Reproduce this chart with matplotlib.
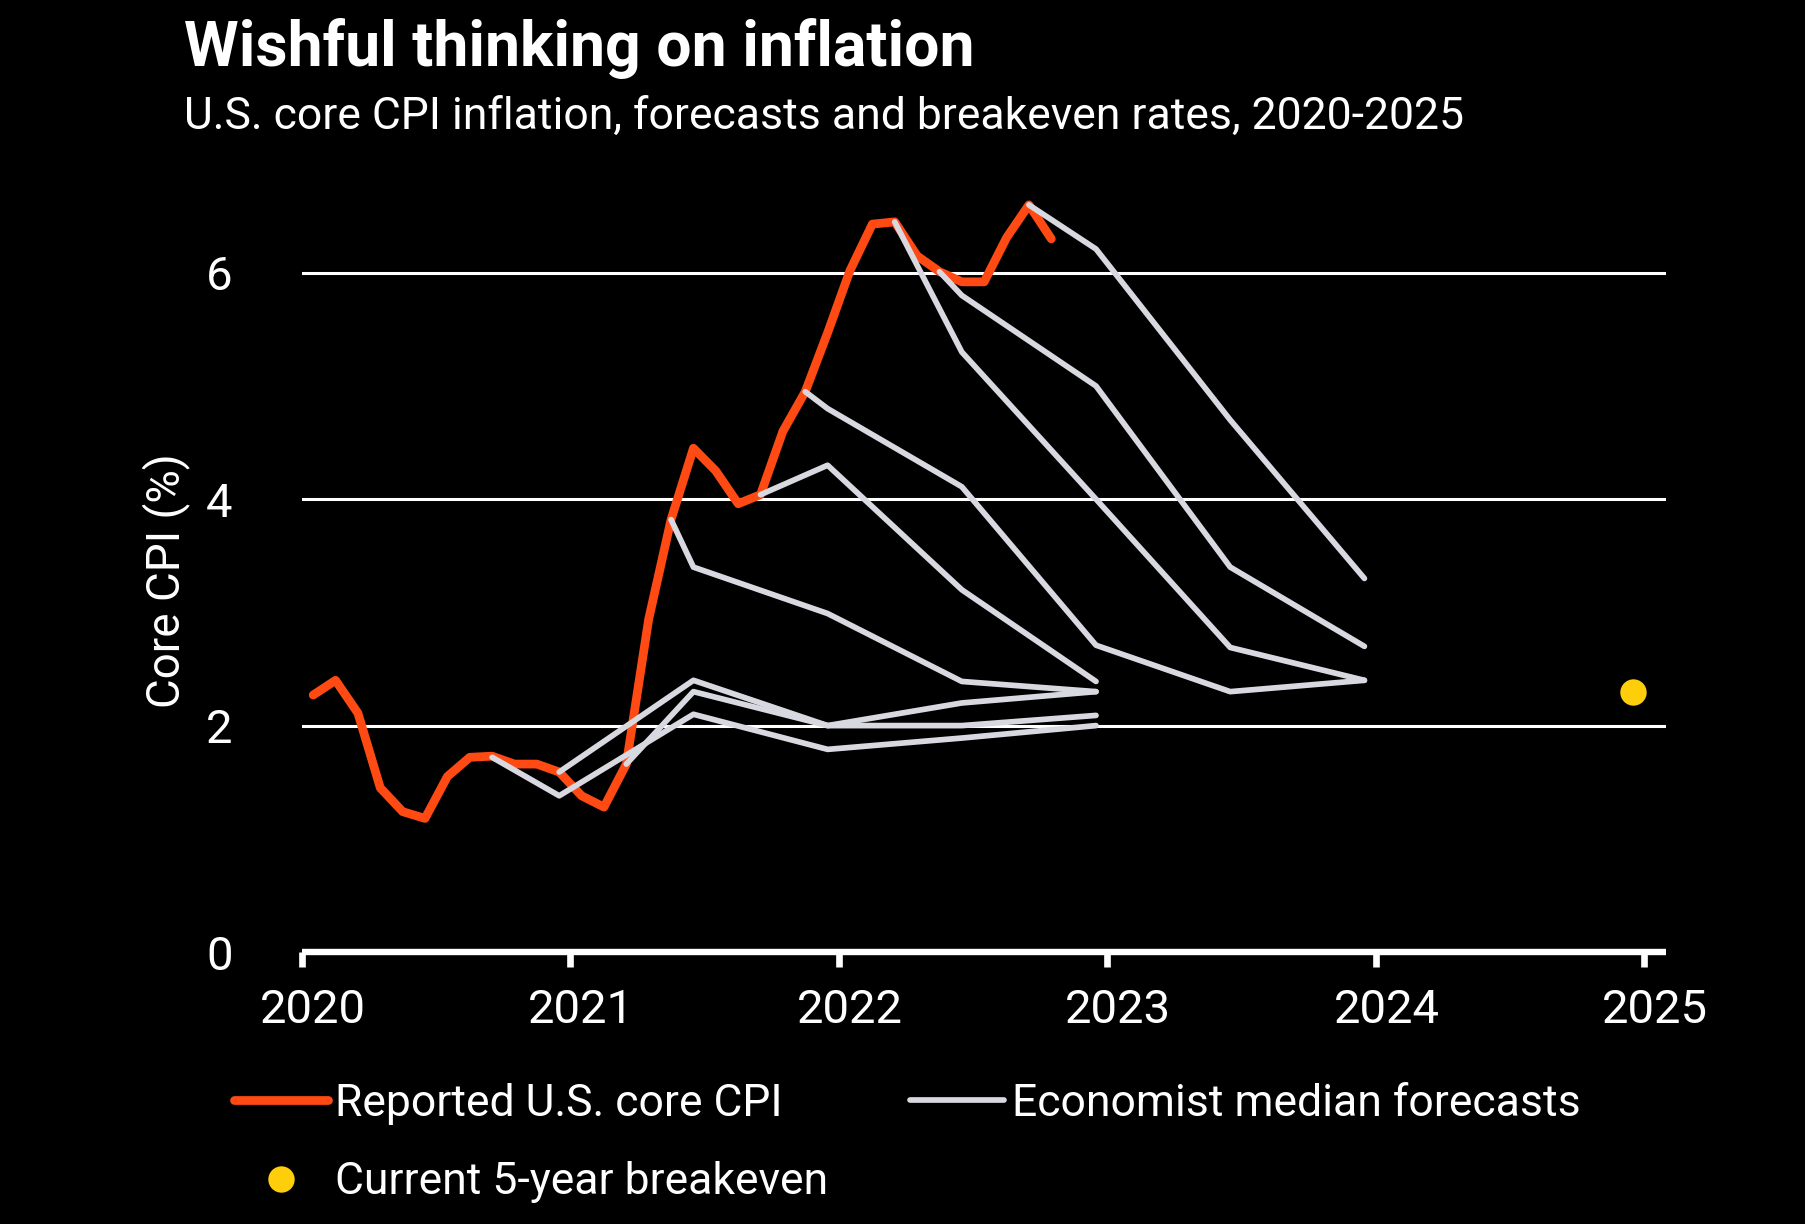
import matplotlib
matplotlib.use("Agg")
import matplotlib.pyplot as plt
import matplotlib.transforms as mtransforms

plt.rcParams['font.family'] = ['Roboto', 'DejaVu Sans']

# ---------------- data ----------------
# Reported U.S. core CPI (y/y %), monthly Jan 2020 - Oct 2022
cpi_first_month = "2020-01"
cpi_values = [2.27, 2.40, 2.11, 1.45, 1.24, 1.18, 1.55, 1.72, 1.73, 1.66, 1.66, 1.59,
              1.38, 1.28, 1.66, 2.94, 3.82, 4.45, 4.25, 3.96, 4.04, 4.60, 4.95, 5.47,
              6.02, 6.43, 6.45, 6.15, 6.01, 5.92, 5.92, 6.31, 6.60, 6.30]

# Economist median forecasts (start at the latest reported value)
f1_months = ["2020-09", "2020-12", "2021-06", "2021-12", "2022-06", "2022-12"]
f1_values = [1.72, 1.38, 2.10, 1.79, 1.89, 2.00]
f2_months = ["2020-12", "2021-06", "2021-12", "2022-06", "2022-12"]
f2_values = [1.59, 2.40, 2.00, 2.20, 2.30]
f3_months = ["2021-03", "2021-06", "2021-12", "2022-06", "2022-12"]
f3_values = [1.66, 2.30, 2.00, 2.00, 2.09]
f4_months = ["2021-05", "2021-06", "2021-12", "2022-06", "2022-12"]
f4_values = [3.82, 3.40, 2.99, 2.39, 2.30]
f5_months = ["2021-09", "2021-12", "2022-06", "2022-12"]
f5_values = [4.04, 4.30, 3.20, 2.39]
f6_months = ["2021-11", "2021-12", "2022-06", "2022-12", "2023-06", "2023-12"]
f6_values = [4.95, 4.80, 4.11, 2.71, 2.30, 2.40]
f7_months = ["2022-03", "2022-06", "2022-12", "2023-06", "2023-12"]
f7_values = [6.45, 5.30, 4.00, 2.69, 2.40]
f8_months = ["2022-05", "2022-06", "2022-12", "2023-06", "2023-12"]
f8_values = [6.01, 5.80, 5.00, 3.40, 2.70]
f9_months = ["2022-09", "2022-12", "2023-06", "2023-12"]
f9_values = [6.60, 6.21, 4.70, 3.30]

# Current 5-year breakeven
breakeven_month = "2024-12"
breakeven_value = 2.3

year_ticks = [2020, 2021, 2022, 2023, 2024, 2025]
y_ticks = [0, 2, 4, 6]

title = "Wishful thinking on inflation"
subtitle = "U.S. core CPI inflation, forecasts and breakeven rates, 2020-2025"
ylabel = "Core CPI (%)"
label_cpi = "Reported U.S. core CPI"
label_fc = "Economist median forecasts"
label_be = "Current 5-year breakeven"

# ---------------- styling ----------------
BG = "#000000"
ORANGE = "#FF4A14"
GREY = "#D8D8E0"
YELLOW = "#FFCE0A"
WHITE = "#FFFFFF"


def month_to_x(m):
    y, mo = m.split("-")
    return int(y) + (int(mo) - 0.5) / 12.0


def month_seq(first, n):
    y, mo = map(int, first.split("-"))
    out = []
    for i in range(n):
        k = mo - 1 + i
        out.append(y + k // 12 + ((k % 12) + 0.5) / 12.0)
    return out


fig = plt.figure(figsize=(18.06, 12.24), dpi=100, facecolor=BG)
ax = fig.add_axes([302 / 1806, 1 - 952 / 1224, 1364 / 1806, 6.8 * 113.2 / 1224])
ax.set_facecolor(BG)

ax.set_xlim(2020, 2020 + 1364 / 268.4)
ax.set_ylim(0, 6.8)

# gridlines
for v in y_ticks[1:]:
    ax.axhline(v, color=WHITE, lw=2.2, zorder=1)

cpi_x = month_seq(cpi_first_month, len(cpi_values))
cpi_line, = ax.plot(cpi_x, cpi_values, color=ORANGE, lw=6.3, solid_capstyle="round",
                    solid_joinstyle="round", zorder=3, clip_on=False)

fc_lines = []
for months, vals in [(f1_months, f1_values), (f2_months, f2_values), (f3_months, f3_values),
                     (f4_months, f4_values), (f5_months, f5_values), (f6_months, f6_values),
                     (f7_months, f7_values), (f8_months, f8_values), (f9_months, f9_values)]:
    ln, = ax.plot([month_to_x(m) for m in months], vals, color=GREY, lw=4.1,
                  solid_capstyle="round", solid_joinstyle="round", zorder=4, clip_on=False)
    fc_lines.append(ln)

be_pt, = ax.plot([month_to_x(breakeven_month)], [breakeven_value], "o", color=YELLOW,
                 markersize=19, markeredgewidth=0, zorder=5, clip_on=False, linestyle="none")

# spines / ticks
for s in ["top", "right", "left"]:
    ax.spines[s].set_visible(False)
ax.spines["bottom"].set_color(WHITE)
ax.spines["bottom"].set_linewidth(4.6)
ax.spines["bottom"].set_capstyle("butt")

ax.set_xticks(year_ticks)
ax.set_xticklabels([str(y) for y in year_ticks])
ax.set_yticks(y_ticks)
ax.set_yticklabels([str(v) for v in y_ticks])
ax.tick_params(axis="x", colors=WHITE, length=11, width=4.8, direction="out",
               labelsize=34, pad=15)
ax.tick_params(axis="y", colors=WHITE, length=0, labelsize=34, pad=50)

# year labels sit slightly right of their ticks in the reference
shift = mtransforms.ScaledTranslation(11 / 100, 0, fig.dpi_scale_trans)
for lbl in ax.get_xticklabels():
    lbl.set_transform(lbl.get_transform() + shift)

ax.set_ylabel(ylabel, color=WHITE, fontsize=33)
ax.yaxis.set_label_coords(-0.082, 0.483)

# titles
fig.text(184 / 1806, 1 - 66 / 1224, title, color=WHITE, fontsize=45, fontweight="bold",
         ha="left", va="baseline")
fig.text(184 / 1806, 1 - 129 / 1224, subtitle, color=WHITE, fontsize=32,
         ha="left", va="baseline")

# legend
handles = [cpi_line, be_pt, fc_lines[0]]
labels = [label_cpi, label_be, label_fc]
leg = fig.legend(handles, labels, loc="upper left", bbox_to_anchor=(234 / 1806, 1 - 1083 / 1224),
                 ncol=2, frameon=False, fontsize=32, labelcolor=WHITE,
                 handlelength=2.12, handletextpad=0.16, columnspacing=1.84,
                 labelspacing=0.82, borderpad=0, borderaxespad=0)

fig.savefig("out.png", dpi=100, facecolor=BG)
